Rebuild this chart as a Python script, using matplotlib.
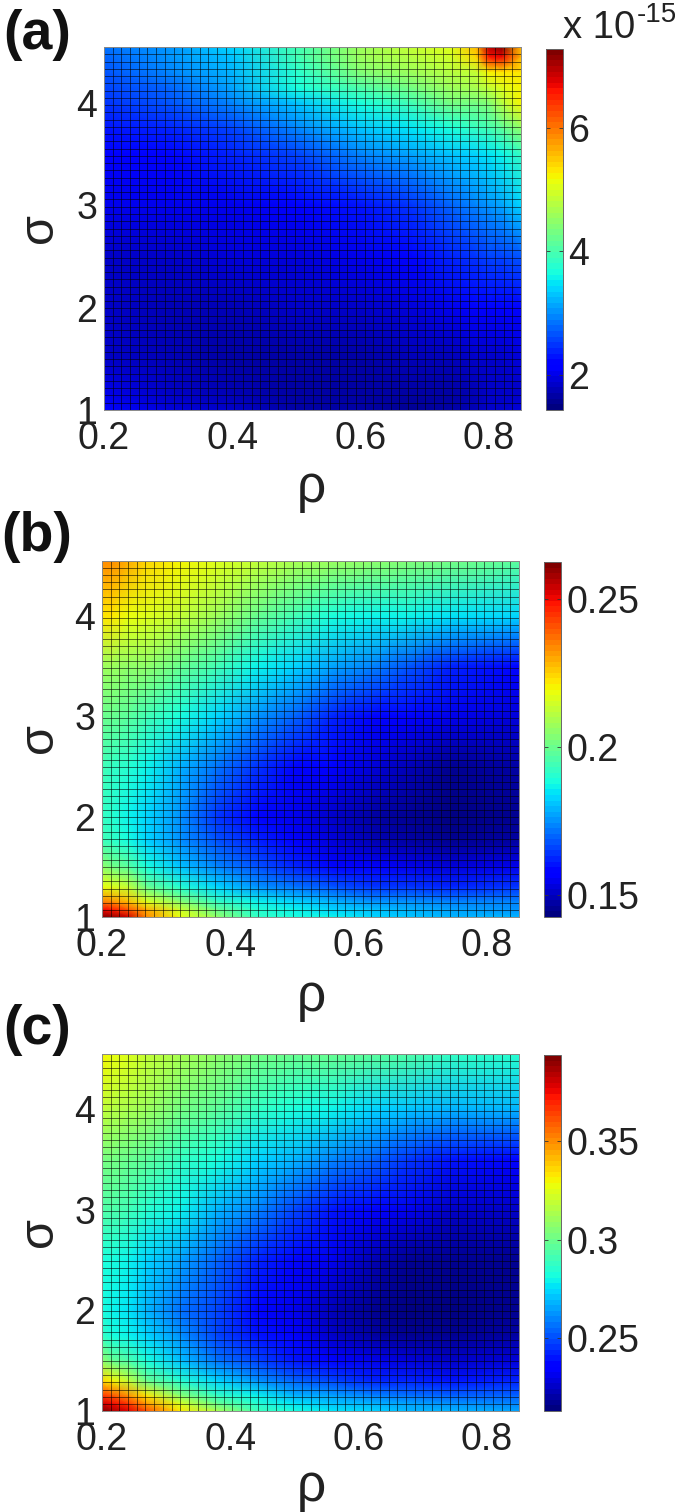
"""Three rho/sigma heat maps stacked, jet colours, MATLAB look."""

import matplotlib

matplotlib.use("Agg")
import matplotlib.pyplot as plt
import numpy as np

plt.rcParams.update(
    {
        "font.family": ["Liberation Sans", "DejaVu Sans"],
        "font.size": 27,
    }
)

FIG_W = 675
FIG_H = 1512
INK = "#222222"
N_COLS = 48
N_ROWS = 50
XLIM = (0.2, 0.85)
YLIM = (1.0, 4.55)

XTICKS = [0.2, 0.4, 0.6, 0.8]
XTICK_LABELS = ["0.2", "0.4", "0.6", "0.8"]
YTICKS = [1, 2, 3, 4]

# panel a, values in units of 1e-15, rows run from top to bottom
RHO_A = [0.2, 0.3, 0.4, 0.5, 0.6, 0.68, 0.74, 0.78, 0.80, 0.82, 0.85]
SIGMA_A = [4.55, 4.45, 4.3, 4.15, 4.0, 3.75, 3.5, 3.0, 2.5, 2.0, 1.5, 1.15, 1.0]
VALUES_A = [
    [2.85, 3.05, 3.35, 3.95, 4.60, 4.85, 5.05, 5.60, 7.00, 7.20, 5.60],
    [2.80, 3.00, 3.30, 3.95, 4.55, 4.80, 4.95, 5.40, 6.60, 6.70, 5.60],
    [2.70, 2.95, 3.25, 3.80, 4.40, 4.60, 4.80, 4.90, 5.20, 5.30, 5.30],
    [2.60, 2.80, 3.10, 3.70, 4.05, 4.30, 4.55, 4.65, 4.85, 5.00, 5.25],
    [2.45, 2.65, 2.90, 3.30, 3.70, 3.95, 4.30, 4.35, 4.40, 4.80, 5.20],
    [2.30, 2.40, 2.60, 2.90, 3.30, 3.50, 3.70, 3.85, 3.90, 4.10, 4.50],
    [2.15, 2.25, 2.35, 2.55, 2.90, 3.15, 3.30, 3.40, 3.50, 3.60, 3.85],
    [2.00, 2.00, 2.05, 2.15, 2.30, 2.50, 2.80, 2.95, 3.05, 3.15, 3.35],
    [1.85, 1.85, 1.90, 1.95, 2.05, 2.20, 2.40, 2.50, 2.55, 2.60, 2.70],
    [1.80, 1.75, 1.75, 1.80, 1.85, 1.95, 2.05, 2.10, 2.15, 2.15, 2.20],
    [1.80, 1.72, 1.68, 1.65, 1.68, 1.72, 1.78, 1.82, 1.85, 1.85, 1.90],
    [2.00, 1.80, 1.72, 1.65, 1.62, 1.62, 1.70, 1.75, 1.80, 1.82, 1.85],
    [2.25, 1.95, 1.80, 1.70, 1.65, 1.60, 1.65, 1.75, 1.80, 1.85, 1.90],
]

# panels b and c share their sample positions
RHO_BC = [0.2, 0.215, 0.24, 0.27, 0.32, 0.38, 0.44, 0.5, 0.56, 0.62, 0.68, 0.74, 0.85]
SIGMA_BC = [4.55, 4.0, 3.5, 3.0, 2.5, 2.0, 1.75, 1.5, 1.3, 1.15, 1.07, 1.0]
VALUES_B = [
    [.234, .233, .230, .225, .221, .217, .212, .210, .207, .205, .203, .201, .198],
    [.222, .222, .219, .217, .212, .207, .200, .194, .189, .187, .186, .185, .182],
    [.207, .207, .206, .205, .200, .194, .187, .182, .177, .173, .167, .162, .158],
    [.200, .199, .198, .195, .189, .183, .176, .169, .163, .158, .156, .155, .153],
    [.194, .193, .191, .187, .180, .171, .164, .159, .156, .152, .149, .146, .147],
    [.193, .191, .187, .182, .175, .165, .158, .155, .151, .147, .145, .144, .145],
    [.194, .192, .188, .183, .176, .168, .162, .157, .153, .150, .147, .146, .147],
    [.205, .201, .197, .189, .181, .173, .167, .162, .158, .156, .155, .153, .155],
    [.219, .217, .212, .199, .191, .182, .176, .171, .168, .165, .164, .163, .164],
    [.236, .234, .227, .217, .205, .193, .186, .182, .179, .176, .175, .174, .173],
    [.251, .248, .241, .229, .215, .200, .191, .186, .183, .181, .179, .177, .176],
    [.262, .259, .254, .233, .218, .205, .193, .188, .186, .183, .181, .180, .179],
]
VALUES_C = [
    [.329, .327, .325, .318, .312, .307, .303, .300, .298, .296, .293, .289, .285],
    [.318, .316, .314, .311, .303, .296, .289, .283, .278, .274, .271, .269, .267],
    [.303, .302, .300, .296, .289, .282, .274, .267, .260, .253, .246, .240, .235],
    [.294, .293, .291, .285, .278, .269, .260, .249, .240, .235, .231, .227, .227],
    [.283, .282, .278, .273, .264, .253, .244, .236, .231, .224, .218, .217, .218],
    [.283, .280, .276, .269, .258, .247, .236, .231, .224, .218, .215, .213, .217],
    [.289, .283, .280, .273, .262, .249, .240, .233, .226, .220, .218, .217, .220],
    [.307, .300, .293, .282, .271, .258, .249, .240, .235, .231, .229, .227, .229],
    [.336, .330, .318, .298, .285, .273, .262, .253, .247, .244, .242, .240, .242],
    [.367, .361, .349, .332, .307, .289, .278, .269, .264, .260, .256, .255, .255],
    [.381, .376, .367, .347, .325, .300, .285, .276, .271, .267, .264, .262, .260],
    [.393, .388, .379, .361, .332, .312, .291, .282, .276, .273, .269, .267, .265],
]

RANGE_A = (1.43, 7.28)
RANGE_B = (0.1426, 0.2625)
RANGE_C = (0.213, 0.3937)
CBAR_TICKS_A = [2, 4, 6]
CBAR_LABELS_A = ["2", "4", "6"]
CBAR_TICKS_B = [0.15, 0.2, 0.25]
CBAR_LABELS_B = ["0.15", "0.2", "0.25"]
CBAR_TICKS_C = [0.25, 0.3, 0.35]
CBAR_LABELS_C = ["0.25", "0.3", "0.35"]


def px_axes(fig, x0, y0, x1, y1):
    # pixel box measured from the top left of the picture
    return fig.add_axes([x0 / FIG_W, 1 - y1 / FIG_H, (x1 - x0) / FIG_W, (y1 - y0) / FIG_H])


def px_text(fig, x, y, s, **kw):
    kw.setdefault("ha", "center")
    kw.setdefault("va", "center")
    kw.setdefault("color", INK)
    fig.text(x / FIG_W, 1 - y / FIG_H, s, **kw)


def heat_panel(fig, box, cbox, rho, sigma, values, vrange, cticks, clabels, cmap):
    ax = px_axes(fig, *box)
    mesh = ax.pcolormesh(rho, sigma, np.array(values), shading="gouraud", cmap=cmap,
                         vmin=vrange[0], vmax=vrange[1], rasterized=True)
    # cell outlines of the original mesh, snapped so they stay even
    vl = ax.vlines(np.linspace(*XLIM, N_COLS + 1), *YLIM, color="black", lw=0.72, alpha=0.55)
    hl = ax.hlines(np.linspace(*YLIM, N_ROWS + 1), *XLIM, color="black", lw=0.72, alpha=0.55)
    vl.set_snap(True)
    hl.set_snap(True)
    ax.set_xlim(*XLIM)
    ax.set_ylim(*YLIM)
    ax.set_xticks(XTICKS, XTICK_LABELS)
    ax.set_yticks(YTICKS)
    ax.tick_params(length=0, labelsize=27, labelcolor=INK, pad=8)
    ax.tick_params(axis="y", pad=5)
    for spine in ax.spines.values():
        spine.set_linewidth(0.7)
        spine.set_color("#8a8a8a")

    cax = px_axes(fig, *cbox)
    cbar = fig.colorbar(mesh, cax=cax)
    cbar.set_ticks(cticks, labels=clabels)
    cax.tick_params(length=3, width=0.6, direction="in", right=True, left=True,
                    labelsize=27, labelcolor=INK, color="#333333", pad=4)
    cbar.outline.set_linewidth(0.7)
    cbar.outline.set_edgecolor("#666666")


def main():
    fig = plt.figure(figsize=(FIG_W / 100, FIG_H / 100), dpi=100, facecolor="white")
    cmap = plt.get_cmap("jet", 64)

    heat_panel(fig, (104, 47, 521, 410), (546, 49, 563, 410), RHO_A, SIGMA_A, VALUES_A,
               RANGE_A, CBAR_TICKS_A, CBAR_LABELS_A, cmap)
    heat_panel(fig, (102, 561, 519, 917), (544, 562, 561, 917), RHO_BC, SIGMA_BC, VALUES_B,
               RANGE_B, CBAR_TICKS_B, CBAR_LABELS_B, cmap)
    heat_panel(fig, (102, 1054, 519, 1411), (544, 1055, 561, 1411), RHO_BC, SIGMA_BC, VALUES_C,
               RANGE_C, CBAR_TICKS_C, CBAR_LABELS_C, cmap)

    for label, y in [("(a)", 35), ("(b)", 537), ("(c)", 1030)]:
        px_text(fig, 37, y, label, fontsize=40, fontweight="bold", color="#111111")
    for y in [489, 997, 1487]:
        px_text(fig, 311, y, "ρ", fontsize=37)
    for y in [228, 738, 1232]:
        px_text(fig, 40, y, "σ", fontsize=35, rotation=90)

    px_text(fig, 563, 28, "x 10", ha="left", fontsize=27.5)
    px_text(fig, 637, 15, "-15", ha="left", fontsize=20)

    fig.savefig("out.png", dpi=100)
    plt.close(fig)


if __name__ == "__main__":
    main()
